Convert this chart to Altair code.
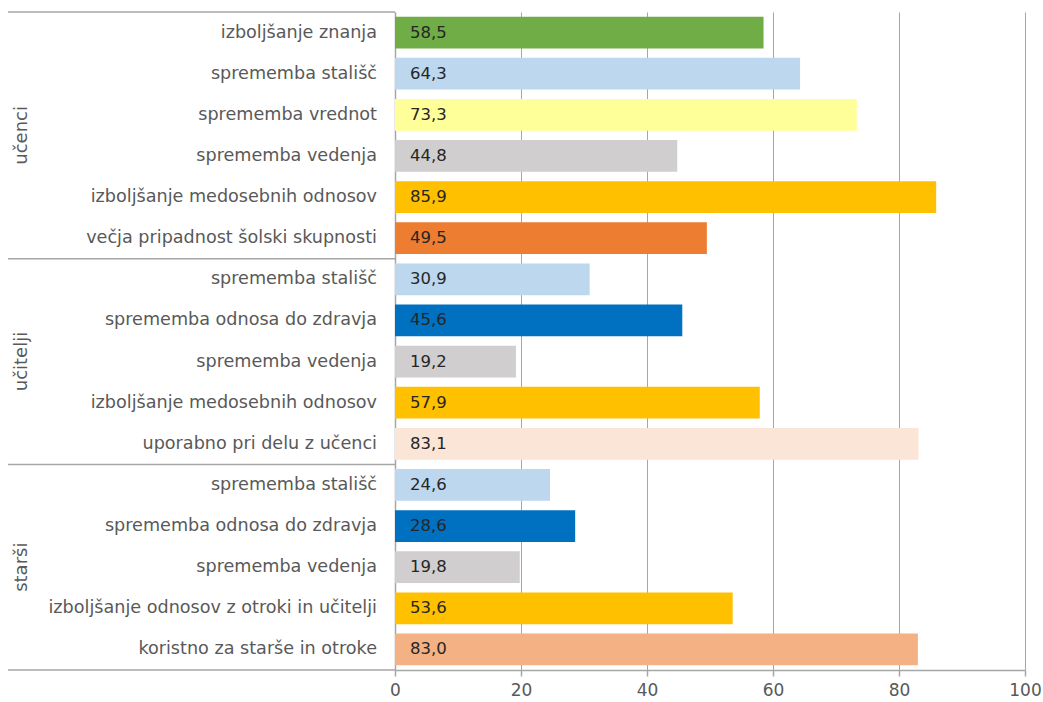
import altair as alt
import pandas as pd

groups = ["učenci"] * 6 + ["učitelji"] * 5 + ["starši"] * 5
keys = ["u1", "u2", "u3", "u4", "u5", "u6",
        "t1", "t2", "t3", "t4", "t5",
        "s1", "s2", "s3", "s4", "s5"]
labels = [
    "izboljšanje znanja", "sprememba stališč", "sprememba vrednot",
    "sprememba vedenja", "izboljšanje medosebnih odnosov",
    "večja pripadnost šolski skupnosti",
    "sprememba stališč", "sprememba odnosa do zdravja", "sprememba vedenja",
    "izboljšanje medosebnih odnosov", "uporabno pri delu z učenci",
    "sprememba stališč", "sprememba odnosa do zdravja", "sprememba vedenja",
    "izboljšanje odnosov z otroki in učitelji", "koristno za starše in otroke",
]
values = [58.5, 64.3, 73.3, 44.8, 85.9, 49.5,
          30.9, 45.6, 19.2, 57.9, 83.1,
          24.6, 28.6, 19.8, 53.6, 83.0]
colors = ["#70ad47", "#bdd7ee", "#ffff99", "#d0cece", "#ffc000", "#ed7d31",
          "#bdd7ee", "#0070c0", "#d0cece", "#ffc000", "#fbe5d6",
          "#bdd7ee", "#0070c0", "#d0cece", "#ffc000", "#f4b183"]
x_ticks = [0, 20, 40, 60, 80, 100]

df = pd.DataFrame({"group": groups, "key": keys, "label": labels,
                   "value": values, "color": colors})

FONT = "DejaVu Sans"
GRAY = "#a6a6a6"
TXT = "#595959"

ysc = alt.Scale(domain=keys, paddingInner=0, paddingOuter=0)
yaxis = alt.Axis(labels=False, ticks=False, title=None, grid=False,
                 domainColor=GRAY, domainWidth=1.5)

base = alt.Chart(df)

bars = base.mark_bar(height={"band": 0.77}).encode(
    x=alt.X("value:Q", scale=alt.Scale(domain=[0, 100]),
            axis=alt.Axis(values=x_ticks, grid=True, gridColor=GRAY,
                          gridWidth=1, domainColor=GRAY, domainWidth=1.5,
                          tickColor=GRAY, tickSize=6, tickWidth=1.5,
                          labelFont=FONT, labelFontSize=17, labelFlush=False,
                          labelColor=TXT, labelPadding=6, title=None)),
    y=alt.Y("key:N", scale=ysc, axis=yaxis),
    color=alt.Color("color:N", scale=None),
)

vals = base.transform_calculate(
    txt="replace(format(datum.value, '.1f'), '.', ',')"
).mark_text(align="left", baseline="middle", dx=15, font=FONT,
            fontSize=16.5, color="#262626").encode(
    x=alt.datum(0),
    y=alt.Y("key:N", scale=ysc, axis=yaxis),
    text="txt:N",
)

cats = base.mark_text(align="right", baseline="middle", dx=-18, font=FONT,
                      fontSize=17.6, color=TXT).encode(
    x=alt.datum(0),
    y=alt.Y("key:N", scale=ysc, axis=yaxis),
    text="label:N",
)

# group labels
g_even = pd.DataFrame({"key": ["u4"], "group": ["učenci"]})
g_odd = pd.DataFrame({"key": ["t3", "s3"], "group": ["učitelji", "starši"]})
glab1 = alt.Chart(g_even).mark_text(angle=270, align="center", baseline="middle",
                                    font=FONT, fontSize=18, color=TXT).encode(
    x=alt.value(-373),
    y=alt.Y("key:N", scale=ysc, axis=yaxis, bandPosition=0),
    text="group:N",
)
glab2 = alt.Chart(g_odd).mark_text(angle=270, align="center", baseline="middle",
                                   font=FONT, fontSize=18, color=TXT).encode(
    x=alt.value(-373),
    y=alt.Y("key:N", scale=ysc, axis=yaxis),
    text="group:N",
)

# group dividers
d_top = pd.DataFrame({"key": ["u1", "t1", "s1"]})
d_bot = pd.DataFrame({"key": ["s5"]})
div1 = alt.Chart(d_top).mark_rule(color=GRAY, strokeWidth=1.5).encode(
    x=alt.value(-387), x2=alt.value(0),
    y=alt.Y("key:N", scale=ysc, axis=yaxis, bandPosition=0),
)
div2 = alt.Chart(d_bot).mark_rule(color=GRAY, strokeWidth=1.5).encode(
    x=alt.value(-387), x2=alt.value(0),
    y=alt.Y("key:N", scale=ysc, axis=yaxis, bandPosition=1),
)

chart = alt.layer(bars, vals, cats, glab1, glab2, div1, div2).properties(
    width=630, height=658,
    autosize=alt.AutoSizeParams(type="none"),
    padding={"left": 395, "top": 12, "right": 18, "bottom": 32},
    background="white",
).configure_view(stroke=None)

chart.save("out.html", embed_options={"renderer": "svg", "actions": False})
